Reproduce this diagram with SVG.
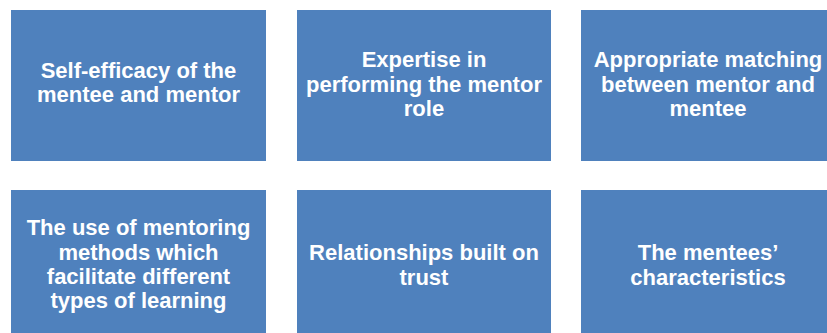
<svg xmlns="http://www.w3.org/2000/svg" width="827" height="333" viewBox="0 0 827 333">
<style>
.box{fill:#4F81BD;}
.t{font-family:"Liberation Sans",Arial,sans-serif;font-weight:bold;font-size:22px;fill:#FFFFFF;text-anchor:middle;}
</style>
<rect width="827" height="333" fill="#FFFFFF"/>
<g id="n1"><rect class="box" x="11" y="10" width="255" height="151"/>
<text class="t" x="138.5" y="78">Self-efficacy of the</text>
<text class="t" x="138.5" y="102">mentee and mentor</text></g>
<g id="n2"><rect class="box" x="297" y="10" width="254" height="151"/>
<text class="t" x="424" y="67">Expertise in</text>
<text class="t" x="424" y="92">performing the mentor</text>
<text class="t" x="424" y="116">role</text></g>
<g id="n3"><rect class="box" x="581" y="10" width="255" height="151"/>
<text class="t" x="708" y="67">Appropriate matching</text>
<text class="t" x="708" y="92">between mentor and</text>
<text class="t" x="708" y="116">mentee</text></g>
<g id="n4"><rect class="box" x="11" y="190" width="255" height="150"/>
<text class="t" x="138.5" y="235">The use of mentoring</text>
<text class="t" x="138.5" y="260">methods which</text>
<text class="t" x="138.5" y="284">facilitate different</text>
<text class="t" x="138.5" y="308">types of learning</text></g>
<g id="n5"><rect class="box" x="297" y="190" width="254" height="150"/>
<text class="t" x="424" y="260">Relationships built on</text>
<text class="t" x="424" y="285">trust</text></g>
<g id="n6"><rect class="box" x="581" y="190" width="255" height="150"/>
<text class="t" x="708" y="260">The mentees’</text>
<text class="t" x="708" y="285">characteristics</text></g>
<g id="connectors"></g>
</svg>
